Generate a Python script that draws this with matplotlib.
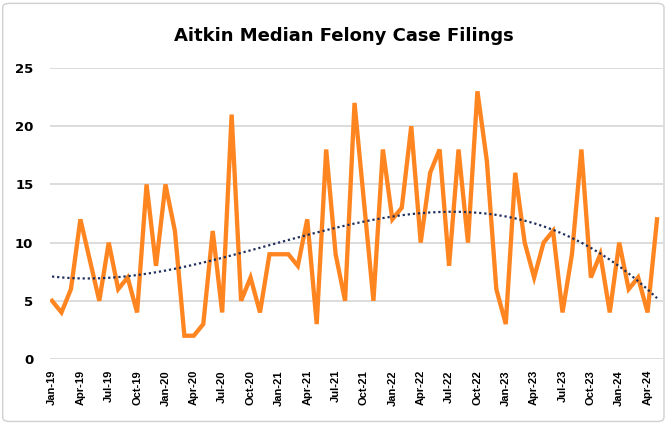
import numpy as np
import matplotlib
matplotlib.use('Agg')
import matplotlib.pyplot as plt
from matplotlib.patches import FancyBboxPatch

# monthly median felony case filings, Jan-19 .. May-24
months = ['Jan', 'Feb', 'Mar', 'Apr', 'May', 'Jun', 'Jul', 'Aug', 'Sep', 'Oct', 'Nov', 'Dec']
years = ['19', '20', '21', '22', '23', '24']
filings = [5, 4, 6, 12, 8.5, 5, 10, 6, 7, 4, 15, 8,
           15, 11, 2, 2, 3, 11, 4, 21, 5, 7, 4, 9,
           9, 9, 8, 12, 3, 18, 9, 5, 22, 13.5, 5, 18,
           12, 13, 20, 10, 16, 18, 8, 18, 10, 23, 17, 6,
           3, 16, 10, 7, 10, 11, 4, 9, 18, 7, 9, 4,
           10, 6, 7, 4, 12]
labels = [f'{m}-{y}' for y in years for m in months][:len(filings)]
title = 'Aitkin Median Felony Case Filings'

orange = '#FF8521'
navy = '#1F2F5C'
grid = '#D9D9D9'

x = np.arange(len(filings))
# polynomial (order 3) trendline, like the spreadsheet one
trend = np.polyval(np.polyfit(x, filings, 3), x)

fig = plt.figure(figsize=(6.68, 4.24), dpi=100)
ax = fig.add_axes([0.0749, 0.1533, 0.9176, 0.6863])

ax.plot(x, filings, color=orange, lw=3.1, solid_joinstyle='miter', zorder=3)
ax.plot(x, trend, color=navy, lw=1.6, linestyle=(0, (1, 1.3)), zorder=4)

ax.set_xlim(-0.21, 64.63)
ax.set_ylim(0, 25)
ax.set_yticks(range(0, 26, 5))
ax.yaxis.grid(True, color=grid, lw=1.3)
ax.set_axisbelow(True)
for s in ax.spines.values():
    s.set_visible(False)

ax.set_xticks(x[::3])
ax.set_xticklabels(labels[::3], rotation=90, fontsize=8, fontweight='bold',
                   family='Liberation Sans')
ax.tick_params(axis='x', length=0, pad=8)
ax.tick_params(axis='y', length=0, pad=12, labelsize=9.5)
for t in ax.get_yticklabels():
    t.set_fontweight('bold')

fig.text(0.515, 0.915, title, ha='center', va='center', fontsize=13, fontweight='bold')

border = FancyBboxPatch((0.004, 0.006), 0.99, 0.986, boxstyle='round,pad=0,rounding_size=0.01',
                        transform=fig.transFigure, fill=False, edgecolor='#D0D0D0', lw=1.0)
fig.patches.append(border)

fig.savefig('out.png', dpi=100)
